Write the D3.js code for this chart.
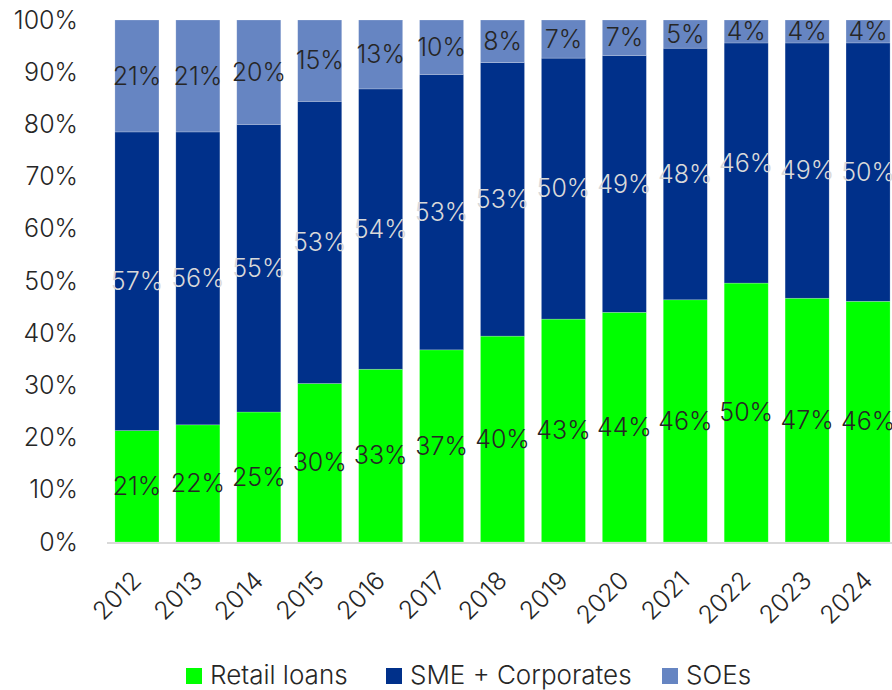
<!DOCTYPE html>
<html>
<head>
<meta charset="utf-8">
<script src="https://cdn.jsdelivr.net/npm/d3@7"></script>
<style>
  html, body { margin: 0; padding: 0; background: #ffffff; }
  svg { display: block; font-family: "Inter", "Noto Sans", sans-serif; font-weight: 300; }
</style>
</head>
<body>
<svg id="chart" width="892" height="690"></svg>
<script>
// Loan portfolio mix by year (shares, %)
const years = ["2012","2013","2014","2015","2016","2017","2018","2019","2020","2021","2022","2023","2024"];
const retailLoans   = [21.3, 22.4, 24.9, 30.0, 33.1, 36.7, 39.6, 42.7, 44.0, 46.4, 49.6, 46.7, 46.2];
const smeCorporates = [57.1, 56.0, 55.1, 53.4, 53.7, 52.6, 52.6, 50.0, 49.2, 48.2, 46.0, 48.9, 49.6];
const soes          = [21.4, 21.4, 20.0, 15.4, 13.2, 10.4,  8.2,  7.3,  6.8,  5.4,  4.4,  4.4,  4.4];
const seriesNames = ["Retail loans", "SME + Corporates", "SOEs"];
const yTicks = [0, 0.1, 0.2, 0.3, 0.4, 0.5, 0.6, 0.7, 0.8, 0.9, 1.0];

const colors = { "Retail loans": "#00ff00", "SME + Corporates": "#00308a", "SOEs": "#6685c2" };
const labelColors = { "Retail loans": "#262626", "SME + Corporates": "#d9d9d9", "SOEs": "#262626" };

const rows = years.map((y, i) => ({
  year: y,
  "Retail loans": retailLoans[i],
  "SME + Corporates": smeCorporates[i],
  "SOEs": soes[i]
}));

const svg = d3.select("#chart");
const fontSize = 25;
const legendFontSize = 26;

const x = d3.scaleBand().domain(years).range([107, 898]).paddingInner(0.277).paddingOuter(0.13);
const y = d3.scaleLinear().domain([0, 1]).range([542, 20]);

const stacked = d3.stack().keys(seriesNames).offset(d3.stackOffsetExpand)(rows);

// y axis labels
const yAxis = d3.axisLeft(y).tickValues(yTicks).tickSize(0).tickPadding(29).tickFormat(d3.format(".0%"));
const gy = svg.append("g").attr("transform", "translate(107,0)").call(yAxis);
gy.select(".domain").remove();
gy.selectAll("text").attr("font-size", fontSize).attr("fill", "#262626")
  .attr("font-family", "Inter, 'Noto Sans', sans-serif").attr("font-weight", 300);

// stacked bars
const layers = svg.append("g").selectAll("g").data(stacked).join("g")
  .attr("fill", d => colors[d.key]);
layers.selectAll("rect").data(d => d).join("rect")
  .attr("x", d => x(d.data.year))
  .attr("y", d => y(d[1]))
  .attr("width", x.bandwidth())
  .attr("height", d => y(d[0]) - y(d[1]))
  .attr("stroke", "rgba(255,255,255,0.35)")
  .attr("stroke-width", 0.6);

// baseline
svg.append("line")
  .attr("x1", 107).attr("x2", 892)
  .attr("y1", y(0) + 1).attr("y2", y(0) + 1)
  .attr("stroke", "#d9d9d9").attr("stroke-width", 2);

// data labels, centred in each segment, showing the stated share
const lbl = svg.append("g").attr("font-size", fontSize).attr("text-anchor", "middle");
stacked.forEach((layer, li) => {
  const raw = [retailLoans, smeCorporates, soes][li];
  lbl.selectAll(null).data(layer).join("text")
    .attr("x", d => x(d.data.year) + x.bandwidth() / 2)
    .attr("y", d => (y(d[0]) + y(d[1])) / 2)
    .attr("dy", "0.35em")
    .attr("fill", labelColors[layer.key])
    .text((d, i) => Math.round(raw[i]) + "%");
});

// x axis labels, rotated
svg.append("g").selectAll("text").data(years).join("text")
  .attr("transform", d => `translate(${x(d) + x.bandwidth() / 2 + 6},582) rotate(-45)`)
  .attr("text-anchor", "end")
  .attr("font-size", fontSize)
  .attr("fill", "#262626")
  .text(d => d);

// legend
const legendItems = [
  { name: "Retail loans", x: 186 },
  { name: "SME + Corporates", x: 386 },
  { name: "SOEs", x: 662 }
];
const lg = svg.append("g");
legendItems.forEach(it => {
  lg.append("rect").attr("x", it.x).attr("y", 668).attr("width", 16).attr("height", 16)
    .attr("fill", colors[it.name]);
  lg.append("text").attr("x", it.x + 24).attr("y", 684)
    .attr("font-size", legendFontSize).attr("fill", "#262626").text(it.name);
});
</script>
</body>
</html>
